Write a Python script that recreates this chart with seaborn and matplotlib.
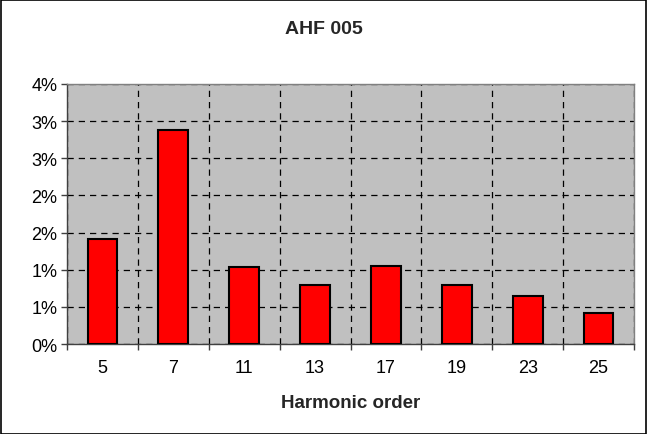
import numpy as np
import pandas as pd
import seaborn as sns
import matplotlib.pyplot as plt
from matplotlib.patches import Rectangle

# data (percent of fundamental)
orders = ['5', '7', '11', '13', '17', '19', '23', '25']
thd = [1.42, 2.88, 1.03, 0.79, 1.05, 0.79, 0.65, 0.42]
yticks = [0, 0.5, 1.0, 1.5, 2.0, 2.5, 3.0, 3.5]
ylabels = ['0%', '1%', '1%', '2%', '2%', '3%', '3%', '4%']

df = pd.DataFrame({'order': orders, 'thd': thd})

sns.set_theme(style='white')
plt.rcParams['font.family'] = ['Liberation Sans', 'DejaVu Sans']

fig = plt.figure(figsize=(6.47, 4.35), dpi=100)
ax = fig.add_axes([67 / 647, 1 - 345 / 435, (634 - 67) / 647, (345 - 85) / 435])

sns.barplot(data=df, x='order', y='thd', color='#FF0000', edgecolor='black',
            linewidth=1.5, width=0.42, saturation=1, ax=ax, zorder=3)

ax.set_facecolor('#C0C0C0')
ax.set_xlim(-0.5, len(orders) - 0.5)
ax.set_ylim(0, 3.5)
ax.set_yticks(yticks)
ax.set_yticklabels(ylabels)
ax.set_xticks(np.arange(-0.5, len(orders)), minor=True)

ax.grid(True, axis='y', which='major', color='black', linestyle=(0, (5, 4)), linewidth=0.9, zorder=1)
ax.grid(True, axis='x', which='minor', color='black', linestyle=(0, (5, 4)), linewidth=0.9, zorder=1)
ax.grid(False, axis='x', which='major')
ax.set_axisbelow(True)

ax.tick_params(axis='x', which='major', length=0, labelsize=13, pad=11, colors='black')
ax.tick_params(axis='x', which='minor', length=4, direction='out', color='#404040', width=1, bottom=True)
ax.tick_params(axis='y', length=4, direction='out', left=True, color='#404040', width=1, labelsize=13, pad=3, colors='black')

for s in ['top', 'right']:
    ax.spines[s].set_color('#808080')
    ax.spines[s].set_linewidth(1)
for s in ['left', 'bottom']:
    ax.spines[s].set_color('#404040')
    ax.spines[s].set_linewidth(1)

ax.set_xlabel('Harmonic order', fontsize=13.5, fontweight='bold', labelpad=13)
ax.set_ylabel('')
fig.text(0.5, 1 - 30 / 435, 'AHF 005', ha='center', va='center', fontsize=14, fontweight='bold')

fig.patches.append(Rectangle((0.5 / 647, 0.5 / 435), 1 - 1.5 / 647, 1 - 1.5 / 435,
                             transform=fig.transFigure, fill=False, edgecolor='black', linewidth=1.2))

fig.savefig('out.png', dpi=100, facecolor='white')
